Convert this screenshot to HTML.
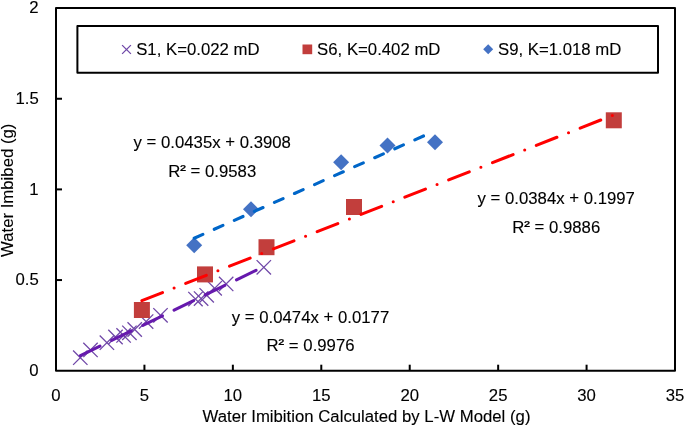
<!DOCTYPE html><html><head><meta charset="utf-8"><style>html,body{margin:0;padding:0;background:#fff;}svg{display:block;will-change:transform;}text{font-family:"Liberation Sans",sans-serif;stroke:#000;stroke-width:0.12px;}</style></head><body>
<svg width="685" height="427" viewBox="0 0 685 427">
<rect width="685" height="427" fill="#fff"/>
<rect x="56" y="8" width="619" height="362.7" fill="none" stroke="#000" stroke-width="2" stroke-linejoin="round"/>
<line x1="56" y1="280.05" x2="62" y2="280.05" stroke="#000" stroke-width="2"/>
<line x1="56" y1="189.40" x2="62" y2="189.40" stroke="#000" stroke-width="2"/>
<line x1="56" y1="98.75" x2="62" y2="98.75" stroke="#000" stroke-width="2"/>
<line x1="144.43" y1="370.7" x2="144.43" y2="364.7" stroke="#000" stroke-width="2"/>
<line x1="232.86" y1="370.7" x2="232.86" y2="364.7" stroke="#000" stroke-width="2"/>
<line x1="321.29" y1="370.7" x2="321.29" y2="364.7" stroke="#000" stroke-width="2"/>
<line x1="409.72" y1="370.7" x2="409.72" y2="364.7" stroke="#000" stroke-width="2"/>
<line x1="498.15" y1="370.7" x2="498.15" y2="364.7" stroke="#000" stroke-width="2"/>
<line x1="586.58" y1="370.7" x2="586.58" y2="364.7" stroke="#000" stroke-width="2"/>
<text transform="translate(38.70,376.00) scale(1,1.03)" font-size="16.75" text-anchor="end">0</text>
<text transform="translate(38.70,285.35) scale(1,1.03)" font-size="16.75" text-anchor="end">0.5</text>
<text transform="translate(38.70,194.70) scale(1,1.03)" font-size="16.75" text-anchor="end">1</text>
<text transform="translate(38.70,104.05) scale(1,1.03)" font-size="16.75" text-anchor="end">1.5</text>
<text transform="translate(38.70,13.40) scale(1,1.03)" font-size="16.75" text-anchor="end">2</text>
<text transform="translate(56.00,400.90) scale(1,1.03)" font-size="16.75" text-anchor="middle">0</text>
<text transform="translate(144.43,400.90) scale(1,1.03)" font-size="16.75" text-anchor="middle">5</text>
<text transform="translate(232.86,400.90) scale(1,1.03)" font-size="16.75" text-anchor="middle">10</text>
<text transform="translate(321.29,400.90) scale(1,1.03)" font-size="16.75" text-anchor="middle">15</text>
<text transform="translate(409.72,400.90) scale(1,1.03)" font-size="16.75" text-anchor="middle">20</text>
<text transform="translate(498.15,400.90) scale(1,1.03)" font-size="16.75" text-anchor="middle">25</text>
<text transform="translate(586.58,400.90) scale(1,1.03)" font-size="16.75" text-anchor="middle">30</text>
<text transform="translate(675.01,400.90) scale(1,1.03)" font-size="16.75" text-anchor="middle">35</text>
<text transform="translate(366.50,421.60) scale(1,1.03)" font-size="16.75" text-anchor="middle">Water Imibition Calculated by L-W Model (g)</text>
<text transform="translate(12.80,190.30) rotate(-90) scale(1,1.03)" font-size="16.75" text-anchor="middle">Water Imbibed (g)</text>
<rect x="77.4" y="26" width="580.6" height="46.8" fill="#fff" stroke="#000" stroke-width="2" stroke-linejoin="round"/>
<path d="M122.1,45.1 L130.9,53.9 M122.1,53.9 L130.9,45.1" stroke="#7048A8" stroke-width="1.3"/>
<rect x="302.5" y="44.5" width="9.7" height="9.7" fill="#C23E3C"/>
<path d="M488.2,44.2 L493.2,49.2 L488.2,54.2 L483.2,49.2 Z" fill="#4472C4"/>
<text transform="translate(136.20,54.60) scale(1,1.03)" font-size="16.75">S1, K=0.022 mD</text>
<text transform="translate(317.10,54.60) scale(1,1.03)" font-size="16.75">S6, K=0.402 mD</text>
<text transform="translate(498.00,54.60) scale(1,1.03)" font-size="16.75">S9, K=1.018 mD</text>
<path d="M73.10,350.50 L87.50,364.90 M73.10,364.90 L87.50,350.50" stroke="#7048A8" stroke-width="1.3"/>
<path d="M83.30,342.70 L97.70,357.10 M83.30,357.10 L97.70,342.70" stroke="#7048A8" stroke-width="1.3"/>
<path d="M99.70,335.50 L114.10,349.90 M99.70,349.90 L114.10,335.50" stroke="#7048A8" stroke-width="1.3"/>
<path d="M108.30,329.80 L122.70,344.20 M108.30,344.20 L122.70,329.80" stroke="#7048A8" stroke-width="1.3"/>
<path d="M116.40,328.20 L130.80,342.60 M116.40,342.60 L130.80,328.20" stroke="#7048A8" stroke-width="1.3"/>
<path d="M122.20,325.60 L136.60,340.00 M122.20,340.00 L136.60,325.60" stroke="#7048A8" stroke-width="1.3"/>
<path d="M127.50,322.30 L141.90,336.70 M127.50,336.70 L141.90,322.30" stroke="#7048A8" stroke-width="1.3"/>
<path d="M138.90,314.40 L153.30,328.80 M138.90,328.80 L153.30,314.40" stroke="#7048A8" stroke-width="1.3"/>
<path d="M153.30,308.10 L167.70,322.50 M153.30,322.50 L167.70,308.10" stroke="#7048A8" stroke-width="1.3"/>
<path d="M188.25,291.90 L202.65,306.30 M188.25,306.30 L202.65,291.90" stroke="#7048A8" stroke-width="1.3"/>
<path d="M193.90,291.35 L208.30,305.75 M193.90,305.75 L208.30,291.35" stroke="#7048A8" stroke-width="1.3"/>
<path d="M199.50,288.10 L213.90,302.50 M199.50,302.50 L213.90,288.10" stroke="#7048A8" stroke-width="1.3"/>
<path d="M207.45,281.15 L221.85,295.55 M207.45,295.55 L221.85,281.15" stroke="#7048A8" stroke-width="1.3"/>
<path d="M218.95,276.70 L233.35,291.10 M218.95,291.10 L233.35,276.70" stroke="#7048A8" stroke-width="1.3"/>
<path d="M256.60,260.10 L271.00,274.50 M256.60,274.50 L271.00,260.10" stroke="#7048A8" stroke-width="1.3"/>
<rect x="133.90" y="302.00" width="16" height="16" fill="#C23E3C"/>
<rect x="197.00" y="266.40" width="16" height="16" fill="#C23E3C"/>
<rect x="258.50" y="239.20" width="16" height="16" fill="#C23E3C"/>
<rect x="346.00" y="199.00" width="16" height="16" fill="#C23E3C"/>
<rect x="605.80" y="112.30" width="16" height="16" fill="#C23E3C"/>
<path d="M194.20,237.30 L202.20,245.30 L194.20,253.30 L186.20,245.30 Z" fill="#4472C4"/>
<path d="M251.00,201.30 L259.00,209.30 L251.00,217.30 L243.00,209.30 Z" fill="#4472C4"/>
<path d="M341.10,154.30 L349.10,162.30 L341.10,170.30 L333.10,162.30 Z" fill="#4472C4"/>
<path d="M387.50,137.60 L395.50,145.60 L387.50,153.60 L379.50,145.60 Z" fill="#4472C4"/>
<path d="M435.00,134.20 L443.00,142.20 L435.00,150.20 L427.00,142.20 Z" fill="#4472C4"/>
<line x1="80.45" y1="355.61" x2="263.80" y2="266.52" stroke="#6619AD" stroke-width="3.1" stroke-linecap="round" stroke-dasharray="21.7 13.0"/>
<line x1="141.90" y1="300.68" x2="613.80" y2="114.92" stroke="#FF0000" stroke-width="3.1" stroke-linecap="round" stroke-dasharray="22.1 12.5 0 12.5"/>
<line x1="194.20" y1="238.22" x2="433.50" y2="131.51" stroke="#0066C8" stroke-width="3.1" stroke-linecap="round" stroke-dasharray="9.5 12.46"/>
<text transform="translate(212.20,147.60) scale(1,1.03)" font-size="16.75" text-anchor="middle">y <tspan dy="-0.6">=</tspan><tspan dy="0.6"> </tspan>0.0435x <tspan dy="-0.8">+</tspan><tspan dy="0.8"> </tspan>0.3908</text>
<text transform="translate(168.21,176.70) scale(1,1.03)" font-size="16.75">R<tspan style="fill:none;stroke:none">²</tspan> <tspan dy="-0.6">=</tspan><tspan dy="0.6"> </tspan>0.9583</text>
<text transform="translate(180.31,174.80) scale(1,0.81)" font-size="16.75" style="stroke-width:0.4px">²</text>
<text transform="translate(556.20,203.70) scale(1,1.03)" font-size="16.75" text-anchor="middle">y <tspan dy="-0.6">=</tspan><tspan dy="0.6"> </tspan>0.0384x <tspan dy="-0.8">+</tspan><tspan dy="0.8"> </tspan>0.1997</text>
<text transform="translate(512.21,232.60) scale(1,1.03)" font-size="16.75">R<tspan style="fill:none;stroke:none">²</tspan> <tspan dy="-0.6">=</tspan><tspan dy="0.6"> </tspan>0.9886</text>
<text transform="translate(524.31,230.70) scale(1,0.81)" font-size="16.75" style="stroke-width:0.4px">²</text>
<text transform="translate(310.50,322.50) scale(1,1.03)" font-size="16.75" text-anchor="middle">y <tspan dy="-0.6">=</tspan><tspan dy="0.6"> </tspan>0.0474x <tspan dy="-0.8">+</tspan><tspan dy="0.8"> </tspan>0.0177</text>
<text transform="translate(266.51,351.20) scale(1,1.03)" font-size="16.75">R<tspan style="fill:none;stroke:none">²</tspan> <tspan dy="-0.6">=</tspan><tspan dy="0.6"> </tspan>0.9976</text>
<text transform="translate(278.61,349.30) scale(1,0.81)" font-size="16.75" style="stroke-width:0.4px">²</text>
</svg></body></html>
